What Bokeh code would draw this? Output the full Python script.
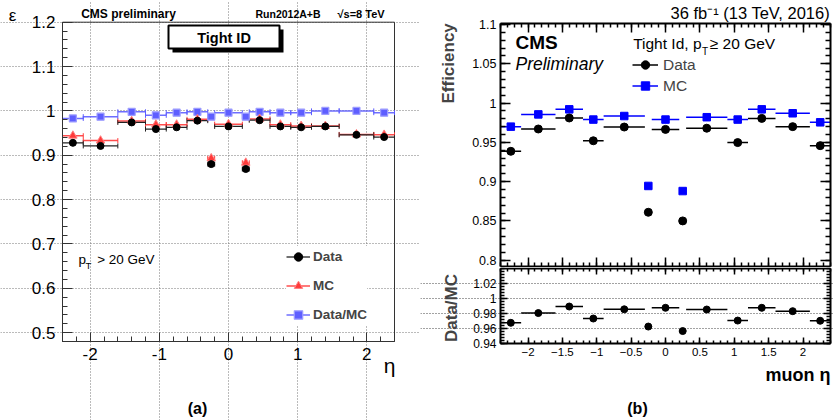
import numpy as np
from bokeh.plotting import figure
from bokeh.models import (Range1d, FixedTicker, Label, BoxAnnotation, LinearAxis,
                          Legend, LegendItem, ColumnDataSource, Whisker, TeeHead)
from bokeh.layouts import row, column
from bokeh.embed import file_html
from bokeh.resources import INLINE

FONT = "Liberation Sans"

# ---------------- data: panel (a) ----------------
eta_lo_a = [-2.4, -2.1, -1.6, -1.2, -0.9, -0.6, -0.3, -0.2, 0.2, 0.3, 0.6, 0.9, 1.2, 1.6, 2.1]
eta_hi_a = [-2.1, -1.6, -1.2, -0.9, -0.6, -0.3, -0.2, 0.2, 0.3, 0.6, 0.9, 1.2, 1.6, 2.1, 2.4]
eff_data_a = [0.928, 0.921, 0.974, 0.959, 0.963, 0.978, 0.880, 0.965, 0.869, 0.979, 0.965, 0.963, 0.965, 0.946, 0.941]
eff_mc_a = [0.944, 0.933, 0.977, 0.969, 0.969, 0.981, 0.893, 0.970, 0.883, 0.982, 0.969, 0.966, 0.966, 0.947, 0.946]
ratio_a = [0.983, 0.987, 0.998, 0.990, 0.996, 0.998, 0.987, 0.996, 0.987, 0.998, 0.996, 0.996, 1.000, 1.000, 0.996]
x_ticks_a = [-2, -1, 0, 1, 2]
x_tick_labels_a = ["-2", "-1", "0", "1", "2"]
y_ticks_a = [0.5, 0.6, 0.7, 0.8, 0.9, 1, 1.1, 1.2]
y_tick_labels_a = ["0.5", "0.6", "0.7", "0.8", "0.9", "1", "1.1", "1.2"]
legend_labels_a = ["Data", "MC", "Data/MC"]

# ---------------- data: panel (b) ----------------
eta_lo_b = [-2.4, -2.1, -1.6, -1.2, -0.9, -0.3, -0.2, 0.2, 0.3, 0.9, 1.2, 1.6, 2.1]
eta_hi_b = [-2.1, -1.6, -1.2, -0.9, -0.3, -0.2, 0.2, 0.3, 0.9, 1.2, 1.6, 2.1, 2.4]
eff_data_b = [0.9386, 0.967, 0.981, 0.952, 0.9695, 0.861, 0.9665, 0.850, 0.968, 0.9497, 0.9805, 0.970, 0.9458]
eff_mc_b = [0.970, 0.9856, 0.992, 0.979, 0.9835, 0.8945, 0.979, 0.888, 0.982, 0.979, 0.992, 0.987, 0.9755]
ratio_b = [0.968, 0.981, 0.9897, 0.9737, 0.986, 0.963, 0.988, 0.957, 0.9857, 0.971, 0.988, 0.9835, 0.9707]
x_ticks_b = [-2, -1.5, -1, -0.5, 0, 0.5, 1, 1.5, 2]
x_tick_labels_b = ["\u22122", "\u22121.5", "\u22121", "\u22120.5", "0", "0.5", "1", "1.5", "2"]
y_ticks_b = [0.8, 0.85, 0.9, 0.95, 1, 1.05, 1.1]
y_tick_labels_b = ["0.8", "0.85", "0.9", "0.95", "1", "1.05", "1.1"]
y_ticks_r = [0.94, 0.96, 0.98, 1, 1.02]
y_tick_labels_r = ["0.94", "0.96", "0.98", "1", "1.02"]
legend_labels_b = ["Data", "MC"]


def minor(lo, hi, step):
    n = int(round((hi - lo) / step))
    return [round(lo + i * step, 4) for i in range(n + 1)]


def full_canvas_figure(W, H, xv, xp, yv, yp):
    """Figure whose frame is the whole canvas; value xv[i] sits at canvas x xp[i],
    value yv[i] at canvas y yp[i] (pixels from the top)."""
    sx = (xv[1] - xv[0]) / (xp[1] - xp[0])
    sy = (yv[1] - yv[0]) / (yp[0] - yp[1])
    xr = Range1d(xv[0] - xp[0] * sx, xv[0] + (W - xp[0]) * sx)
    yr = Range1d(yv[0] - (H - yp[0]) * sy, yv[0] + yp[0] * sy)
    p = figure(width=W, height=H, x_range=xr, y_range=yr, output_backend="svg",
               toolbar_location=None, min_border_left=0, min_border_right=0,
               min_border_top=0, min_border_bottom=0)
    p.outline_line_color = None
    p.background_fill_color = "white"
    p.border_fill_color = "white"
    return p


def style_axis(ax, ticks, minors, labels, fixed, bounds, major_in=10, minor_in=5, lw=1,
               color="black", font_size="12px", standoff=4, tick_w=1):
    ax.fixed_location = fixed
    ax.bounds = bounds
    ax.ticker = FixedTicker(ticks=ticks, minor_ticks=minors)
    ax.major_tick_in = int(major_in)
    ax.major_tick_out = 0
    ax.minor_tick_in = int(minor_in)
    ax.minor_tick_out = 0
    ax.axis_line_color = color
    ax.axis_line_width = lw
    ax.major_tick_line_color = color
    ax.minor_tick_line_color = color
    ax.major_tick_line_width = tick_w
    ax.minor_tick_line_width = tick_w
    ax.major_label_text_font = FONT
    if labels is None:
        ax.major_label_text_font_size = "0px"
        ax.major_label_text_color = None
        ax.major_label_standoff = 0
    else:
        ax.major_label_overrides = dict(zip(ticks, labels))
        ax.major_label_text_font_size = font_size
        ax.major_label_text_color = "black"
        ax.major_label_standoff = standoff


def txt(p, H, x, y, s, size, style="normal", align="left", angle=0.0):
    # x, y in canvas pixels (y from the top), y is the vertical middle of the text
    p.add_layout(Label(x=x, y=H - y, x_units="screen", y_units="screen", text=s, text_font=FONT,
                       text_font_size=f"{size}px", text_font_style=style, text_align=align,
                       text_baseline="middle", angle=angle, text_color="black"))


def sbox(p, H, l, r, t, b, **kw):
    p.add_layout(BoxAnnotation(left=l, right=r, top=H - t, bottom=H - b,
                               left_units="screen", right_units="screen",
                               top_units="screen", bottom_units="screen", **kw))


# =============== panel (a) ===============
HA = 420
XA = (-2.4, 2.4)
YA = (0.48, 1.2)
fa = full_canvas_figure(420, HA, XA, (62, 394), YA, (341, 21.7))
style_axis(fa.xaxis[0], x_ticks_a, minor(-2.4, 2.4, 0.2), x_tick_labels_a, YA[0], XA,
           major_in=9, minor_in=5, color="#333333", font_size="17px", standoff=6)
style_axis(fa.yaxis[0], y_ticks_a, minor(0.48, 1.2, 0.02), y_tick_labels_a, XA[0], YA,
           major_in=10, minor_in=5, color="#333333", font_size="17px", standoff=7)
fa.xgrid[0].ticker = fa.xaxis[0].ticker
fa.ygrid[0].ticker = fa.yaxis[0].ticker
fa.xgrid[0].bounds = YA
fa.ygrid[0].bounds = XA
for g in (fa.xgrid[0], fa.ygrid[0]):
    g.grid_line_color = "#777777"
    g.grid_line_dash = "1 2"
    g.grid_line_width = 1
# frame outline of the data area
fa.add_layout(BoxAnnotation(left=XA[0], right=XA[1], bottom=YA[0], top=YA[1], fill_alpha=0,
                            line_color="#333333", line_width=1, line_alpha=1.0, level="underlay"))

src_a = ColumnDataSource(dict(lo=eta_lo_a, hi=eta_hi_a,
                              x=[(l + h) / 2 for l, h in zip(eta_lo_a, eta_hi_a)],
                              data=eff_data_a, mc=eff_mc_a, ratio=ratio_a))
BLUE_A = "#5e5eff"
RED_A = "#ff3a3a"
DARK_A = "#222222"

seg_r_a = fa.segment("lo", "ratio", "hi", "ratio", source=src_a, line_color=BLUE_A, line_width=1.5, line_alpha=0.9)
seg_m_a = fa.segment("lo", "mc", "hi", "mc", source=src_a, line_color=RED_A, line_width=1.5, line_alpha=0.9)
seg_d_a = fa.segment("lo", "data", "hi", "data", source=src_a, line_color=DARK_A, line_width=1.3)
for col, c in (("ratio", BLUE_A), ("mc", RED_A), ("data", DARK_A)):
    fa.add_layout(Whisker(source=src_a, base=col, lower="lo", upper="hi", dimension="width",
                          line_alpha=0,
                          lower_head=TeeHead(size=5, line_color=c, line_width=1),
                          upper_head=TeeHead(size=5, line_color=c, line_width=1)))
sc_r_a = fa.scatter("x", "ratio", source=src_a, marker="square", size=7, fill_color=BLUE_A,
                    line_color="#9c9cff", line_width=1.2)
sc_m_a = fa.scatter("x", "mc", source=src_a, marker="triangle", size=8.5, fill_color=RED_A,
                    line_color="#ff8080", line_width=1)
sc_d_a = fa.scatter("x", "data", source=src_a, marker="circle", size=7, fill_color="black",
                    line_color="black")

leg_a = Legend(items=[LegendItem(label=legend_labels_a[0], renderers=[seg_d_a, sc_d_a]),
                      LegendItem(label=legend_labels_a[1], renderers=[seg_m_a, sc_m_a]),
                      LegendItem(label=legend_labels_a[2], renderers=[seg_r_a, sc_r_a])],
               location=(286, 95), orientation="vertical", glyph_width=24, glyph_height=21,
               spacing=8, padding=3, margin=0, label_standoff=3,
               label_text_font=FONT, label_text_font_style="bold", label_text_font_size="13.5px",
               background_fill_color="white", background_fill_alpha=1.0, border_line_color=None)
fa.add_layout(leg_a)

# "Tight ID" box with drop shadow
sbox(fa, HA, 172, 283, 29, 52, fill_color="black", fill_alpha=1.0, line_alpha=0)
sbox(fa, HA, 168, 279, 25, 48, fill_color="white", fill_alpha=1.0, line_color="black",
     line_width=2, line_alpha=1.0)
txt(fa, HA, 223.5, 37.5, "Tight ID", 14.5, style="bold", align="center")

txt(fa, HA, 128, 13.5, "CMS preliminary", 12, style="bold", align="center")
txt(fa, HA, 255, 13.5, "Run2012A+B", 10.5, style="bold")
txt(fa, HA, 337, 13, "\u221as=8 TeV", 11, style="bold")
txt(fa, HA, 12, 15, "\u03b5", 17, align="center")
txt(fa, HA, 78, 258.5, "p", 13.5)
txt(fa, HA, 85, 265, "T", 9.5)
txt(fa, HA, 96.7, 258.5, "> 20 GeV", 13.5)
txt(fa, HA, 395, 365, "\u03b7", 21, align="right")
txt(fa, HA, 197, 408, "(a)", 16, style="bold", align="center")

# =============== panel (b): main pad ===============
H1 = 267
XB = (-2.4, 2.4)
YB = (0.792, 1.1017)
fb1 = full_canvas_figure(414, H1, XB, (80, 410), (0.8, 1.1), (259.7, 24.0))
fb1.xgrid.visible = False
fb1.ygrid.visible = False
style_axis(fb1.yaxis[0], y_ticks_b, minor(0.79, 1.10, 0.01), y_tick_labels_b, XB[0], YB,
           major_in=10, minor_in=5, lw=2, font_size="12.5px", standoff=4, tick_w=1.5)
style_axis(fb1.xaxis[0], x_ticks_b, minor(-2.4, 2.4, 0.1), None, YB[0], XB,
           major_in=9, minor_in=4, lw=2, tick_w=1.5)
ax_r1 = LinearAxis()
fb1.add_layout(ax_r1, "right")
style_axis(ax_r1, y_ticks_b, minor(0.79, 1.10, 0.01), None, XB[1], YB,
           major_in=10, minor_in=5, lw=2, tick_w=1.5)
ax_t1 = LinearAxis()
fb1.add_layout(ax_t1, "above")
style_axis(ax_t1, x_ticks_b, minor(-2.4, 2.4, 0.1), None, YB[1], XB,
           major_in=9, minor_in=4, lw=2, tick_w=1.5)

src_b = ColumnDataSource(dict(lo=eta_lo_b, hi=eta_hi_b,
                              x=[(l + h) / 2 for l, h in zip(eta_lo_b, eta_hi_b)],
                              data=eff_data_b, mc=eff_mc_b, ratio=ratio_b))
BLUE_B = "#0000ff"
seg_m_b = fb1.segment("lo", "mc", "hi", "mc", source=src_b, line_color=BLUE_B, line_width=1.5)
sc_m_b = fb1.scatter("x", "mc", source=src_b, marker="square", size=7.5, fill_color=BLUE_B, line_color=BLUE_B)
seg_d_b = fb1.segment("lo", "data", "hi", "data", source=src_b, line_color="black", line_width=1.5)
sc_d_b = fb1.scatter("x", "data", source=src_b, marker="circle", size=8, fill_color="black", line_color="black")

leg_b = Legend(items=[LegendItem(label=legend_labels_b[0], renderers=[seg_d_b, sc_d_b]),
                      LegendItem(label=legend_labels_b[1], renderers=[seg_m_b, sc_m_b])],
               location=(212, 171), orientation="vertical", glyph_width=26, glyph_height=21,
               spacing=0, padding=0, margin=0, label_standoff=5, label_height=21,
               label_text_font=FONT, label_text_font_size="15.5px",
               background_fill_alpha=0, border_line_color=None)
fb1.add_layout(leg_b)

txt(fb1, H1, 409.5, 12.2, "36 fb\u207b\u00b9 (13 TeV, 2016)", 16.5, align="right")
txt(fb1, H1, 95, 41.6, "CMS", 19, style="bold")
txt(fb1, H1, 95, 63.6, "Preliminary", 17.5, style="italic")
txt(fb1, H1, 281, 42.6, "Tight Id, p", 15.5, align="right")
txt(fb1, H1, 281.5, 50.5, "T", 10)
txt(fb1, H1, 289.3, 42.6, "\u2265 20 GeV", 15.5)
# rotated axis titles (baseline "middle" keeps them centred on x)
fb1.add_layout(Label(x=28, y=H1 - 22.7, x_units="screen", y_units="screen", text="Efficiency",
                     text_font=FONT, text_font_size="17px", text_font_style="bold",
                     text_align="right", text_baseline="middle", angle=np.pi / 2))

# =============== panel (b): ratio pad ===============
H2 = 153
YR = (0.94, 1.04)
fb2 = full_canvas_figure(414, H2, XB, (80, 410), (0.94, 1.02), (76.3, 16.3))
fb2.xgrid.visible = False
style_axis(fb2.yaxis[0], y_ticks_r, minor(0.94, 1.04, 0.004), y_tick_labels_r, XB[0], YR,
           major_in=7, minor_in=4, lw=2, font_size="12px", standoff=4, tick_w=1.5)
style_axis(fb2.xaxis[0], x_ticks_b, minor(-2.4, 2.4, 0.1), x_tick_labels_b, YR[0], XB,
           major_in=6, minor_in=3, lw=2, font_size="11.5px", standoff=4, tick_w=1.5)
ax_r2 = LinearAxis()
fb2.add_layout(ax_r2, "right")
style_axis(ax_r2, y_ticks_r, minor(0.94, 1.04, 0.004), None, XB[1], YR,
           major_in=7, minor_in=4, lw=2, tick_w=1.5)
ax_t2 = LinearAxis()
fb2.add_layout(ax_t2, "above")
style_axis(ax_t2, x_ticks_b, minor(-2.4, 2.4, 0.1), None, YR[1], XB,
           major_in=6, minor_in=3, lw=2, tick_w=1.5)
fb2.ygrid[0].ticker = FixedTicker(ticks=y_ticks_r[1:])
fb2.ygrid[0].bounds = XB
fb2.ygrid[0].grid_line_color = "#444444"
fb2.ygrid[0].grid_line_dash = "1 2"
fb2.ygrid[0].grid_line_width = 1

seg_r_b = fb2.segment("lo", "ratio", "hi", "ratio", source=src_b, line_color="black", line_width=1.5)
sc_r_b = fb2.scatter("x", "ratio", source=src_b, marker="circle", size=7, fill_color="black", line_color="black")

fb2.add_layout(Label(x=31, y=H2 - 40.5, x_units="screen", y_units="screen", text="Data/MC",
                     text_font=FONT, text_font_size="17px", text_font_style="bold",
                     text_align="center", text_baseline="middle", angle=np.pi / 2))
txt(fb2, H2, 410, 107.5, "muon \u03b7", 18, style="bold", align="right")
txt(fb2, H2, 217, 141, "(b)", 16, style="bold", align="center")

layout = row(fa, column(fb1, fb2, spacing=0), spacing=0)
open("out.html", "w").write(file_html(layout, INLINE))
